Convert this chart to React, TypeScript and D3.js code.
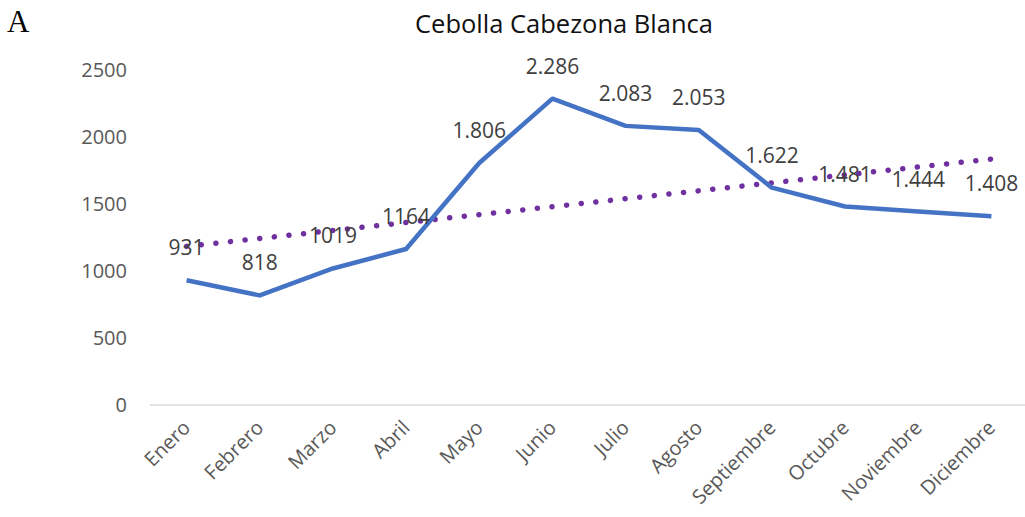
import React from "react";
import { scaleBand, scaleLinear, line } from "d3";

const width = 1025;
const height = 517;

const margin = { top: 70, right: 0, bottom: 112, left: 150 };
const innerWidth = 878;
const innerHeight = height - margin.top - margin.bottom;

const months = [
  "Enero", "Febrero", "Marzo", "Abril", "Mayo", "Junio",
  "Julio", "Agosto", "Septiembre", "Octubre", "Noviembre", "Diciembre",
];
const prices = [931, 818, 1019, 1164, 1806, 2286, 2083, 2053, 1622, 1481, 1444, 1408];
const priceLabels = ["931", "818", "1019", "1164", "1.806", "2.286", "2.083", "2.053", "1.622", "1.481", "1.444", "1.408"];
const yTicks = [0, 500, 1000, 1500, 2000, 2500];

const font = "'Open Sans', 'Liberation Sans', sans-serif";

export default function App() {
  const xScale = scaleBand<string>().domain(months).range([0, innerWidth]);
  const yScale = scaleLinear().domain([0, 2500]).range([innerHeight, 0]);
  const cx = (m: string) => (xScale(m) ?? 0) + xScale.bandwidth() / 2;

  // linear trend line (least squares over month index)
  const n = prices.length;
  const mx = (n - 1) / 2;
  const my = prices.reduce((a, b) => a + b, 0) / n;
  let sxy = 0;
  let sxx = 0;
  prices.forEach((v, i) => {
    sxy += (i - mx) * (v - my);
    sxx += (i - mx) * (i - mx);
  });
  const slope = sxy / sxx;
  const trend = months.map((m, i) => ({ m, v: my + slope * (i - mx) }));

  const valueLine = line<number>()
    .x((_, i) => cx(months[i]))
    .y((d) => yScale(d));

  const trendLine = line<{ m: string; v: number }>()
    .x((d) => cx(d.m))
    .y((d) => yScale(d.v));

  return (
    <svg width={width} height={height} style={{ display: "block", position: "absolute", left: 0, top: 0 }}>
      <rect width={width} height={height} fill="#fff" />
      <text x={7} y={32} fontFamily="'Liberation Serif', 'DejaVu Serif', serif" fontSize={31} fill="#000">
        A
      </text>
      <text x={564} y={33} textAnchor="middle" fontFamily={font} fontSize={25.5} fill="#111">
        Cebolla Cabezona Blanca
      </text>

      <g transform={`translate(${margin.left}, ${margin.top})`}>
        {/* y axis labels */}
        {yTicks.map((t) => (
          <text
            key={t}
            x={-23}
            y={yScale(t)}
            dy=".35em"
            textAnchor="end"
            fontFamily={font}
            fontSize={20}
            fill="#595959"
          >
            {t}
          </text>
        ))}

        {/* baseline */}
        <line x1={0} x2={innerWidth} y1={innerHeight} y2={innerHeight} stroke="#d9d9d9" strokeWidth={1.5} />

        {/* x labels */}
        {months.map((m) => (
          <text
            key={m}
            transform={`translate(${cx(m) + 5}, ${innerHeight + 24}) rotate(-45)`}
            textAnchor="end"
            fontFamily={font}
            fontSize={20}
            fill="#595959"
          >
            {m}
          </text>
        ))}

        {/* trend */}
        <path
          d={trendLine(trend) ?? ""}
          fill="none"
          stroke="#7030A0"
          strokeWidth={5.5}
          strokeLinecap="round"
          strokeDasharray="0.1 14.6"
        />

        {/* series */}
        <path
          d={valueLine(prices) ?? ""}
          fill="none"
          stroke="#4472C4"
          strokeWidth={4.5}
          strokeLinejoin="round"
        />

        {/* data labels */}
        {prices.map((v, i) => (
          <text
            key={months[i]}
            x={cx(months[i])}
            y={yScale(v) - 25}
            textAnchor="middle"
            fontFamily={font}
            fontSize={21}
            fill="#404040"
          >
            {priceLabels[i]}
          </text>
        ))}
      </g>
    </svg>
  );
}
